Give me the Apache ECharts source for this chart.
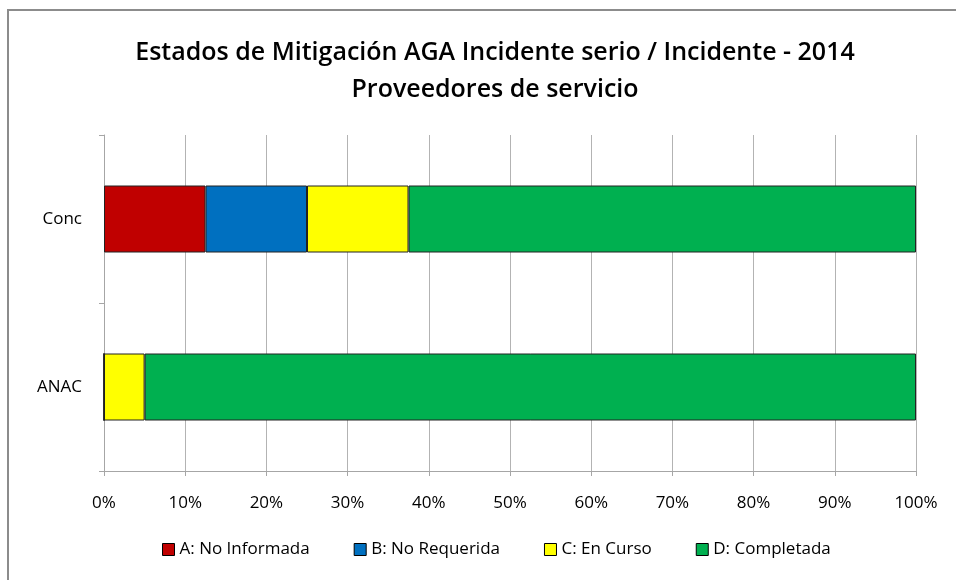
<!DOCTYPE html>
<html>
<head>
<meta charset="utf-8">
<script src="https://cdn.jsdelivr.net/npm/echarts@6/dist/echarts.min.js"></script>
<style>
  html, body { margin: 0; padding: 0; background: #fff; }
  #main { width: 956px; height: 580px; }
</style>
</head>
<body>
<div id="main"></div>
<script>
// categories (bottom to top) and stacked percentages
var categories = ['ANAC', 'Conc'];
var seriesNames = ['A: No Informada', 'B: No Requerida', 'C: En Curso', 'D: Completada'];
var noInformada = [0, 12.5];
var noRequerida = [0, 12.5];
var enCurso = [5, 12.5];
var completada = [95, 62.5];
var colors = ['#c00000', '#0070c0', '#ffff00', '#00b050'];

var font = 'Open Sans';
var myChart = echarts.init(document.getElementById('main'));

function barSeries(name, data, color) {
  return {
    name: name,
    type: 'bar',
    stack: 'total',
    data: data,
    barWidth: 67,
    itemStyle: { color: color, borderColor: '#222', borderWidth: 1 },
    emphasis: { disabled: true }
  };
}

var option = {
  animation: false,
  color: colors,
  title: {
    text: 'Estados de Mitigación AGA Incidente serio / Incidente - 2014\nProveedores de servicio',
    left: 490,
    textAlign: 'center',
    top: 29,
    textStyle: { fontFamily: font, fontSize: 25, fontWeight: 600, color: '#000', lineHeight: 37 }
  },
  legend: {
    bottom: 17,
    left: 157,
    itemWidth: 12,
    itemHeight: 12,
    itemGap: 44,
    icon: 'rect',
    textStyle: { fontFamily: font, fontSize: 17, color: '#000' },
    itemStyle: { borderColor: '#000', borderWidth: 1 },
    data: seriesNames
  },
  grid: { left: 104, right: 40, top: 135, bottom: 109 },
  xAxis: {
    type: 'value',
    min: 0,
    max: 100,
    interval: 10,
    axisLine: { show: true, lineStyle: { color: '#a6a6a6' } },
    axisTick: { show: true, length: 5, lineStyle: { color: '#a6a6a6' } },
    axisLabel: { formatter: '{value}%', fontFamily: font, fontSize: 17, color: '#000', margin: 24 },
    splitLine: { show: true, lineStyle: { color: '#b3b3b3' } }
  },
  yAxis: {
    type: 'category',
    data: categories,
    axisLine: { show: true, lineStyle: { color: '#a6a6a6' } },
    axisTick: { show: true, length: 5, lineStyle: { color: '#a6a6a6' } },
    axisLabel: { fontFamily: font, fontSize: 17, color: '#000', margin: 22 }
  },
  graphic: [{
    type: 'rect',
    shape: { x: 8, y: 10, width: 960, height: 600 },
    style: { fill: 'none', stroke: '#8c8c8c', lineWidth: 2 },
    silent: true
  }],
  series: [
    barSeries(seriesNames[0], noInformada, colors[0]),
    barSeries(seriesNames[1], noRequerida, colors[1]),
    barSeries(seriesNames[2], enCurso, colors[2]),
    barSeries(seriesNames[3], completada, colors[3])
  ]
};

myChart.setOption(option);
</script>
</body>
</html>
